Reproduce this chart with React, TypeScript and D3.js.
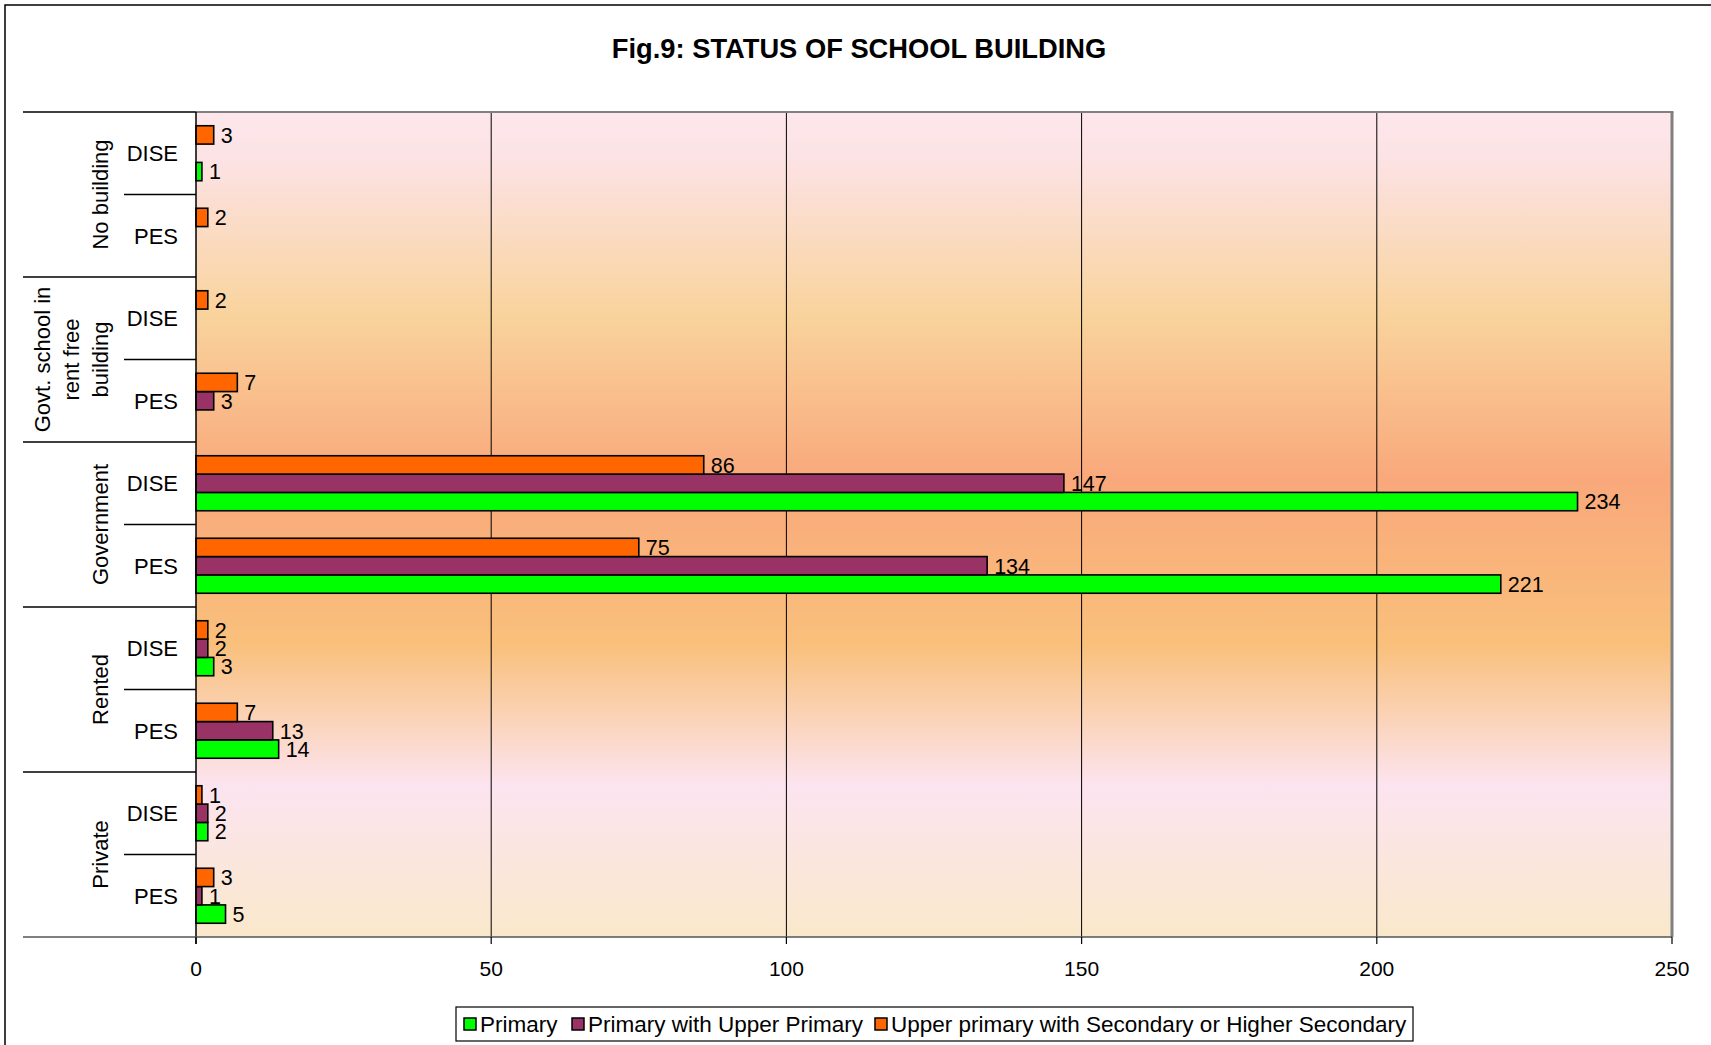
import React from 'react';
import * as d3 from 'd3';

// rows run top to bottom, two per building type
const groups = [['No building'], ['Govt. school in', 'rent free', 'building'], ['Government'], ['Rented'], ['Private']];
const sources = ['DISE', 'PES'];
const primary = [1, null, null, null, 234, 221, 3, 14, 2, 5];
const primaryUpper = [null, null, null, 3, 147, 134, 2, 13, 2, 1];
const upperSecondary = [3, 2, 2, 7, 86, 75, 2, 7, 1, 3];
const xTicks = [0, 50, 100, 150, 200, 250];
const seriesNames = ['Primary', 'Primary with Upper Primary', 'Upper primary with Secondary or Higher Secondary'];
const seriesColors = ['#00FF00', '#993366', '#FF6600'];

const W = 1711;
const H = 1045;
const P = { left: 196, right: 1672, top: 112, bottom: 937 };
const FONT = 'Liberation Sans, Arial, sans-serif';

export default function App() {
  const rows = groups.flatMap((g, gi) => sources.map((s) => `${gi}-${s}`));
  const x = d3.scaleLinear().domain([0, 250]).range([P.left, P.right]);
  const y = d3.scaleBand().domain(rows).range([P.top, P.bottom]);
  // top to bottom inside a row: upper secondary, primary+upper, primary
  const inner = d3.scaleBand().domain(['2', '1', '0']).range([0, y.bandwidth()]).paddingInner(0).paddingOuter(0.75);
  const values = [primary, primaryUpper, upperSecondary];

  const bars = [];
  values.forEach((arr, si) => {
    arr.forEach((v, ri) => {
      if (v == null) return;
      bars.push({ key: `${si}-${ri}`, si, v, y0: y(rows[ri]) + inner(String(si)) });
    });
  });

  const groupY = (gi) => y(rows[gi * 2]);
  const legendItems = [
    { sx: 464, tx: 480 },
    { sx: 572, tx: 588 },
    { sx: 875, tx: 891 },
  ];

  return (
    <svg width={W} height={H} style={{ position: 'absolute', left: 0, top: 0, background: '#fff' }} fontFamily={FONT}>
      <defs>
        <linearGradient id="bg" x1="0" y1="0" x2="0" y2="1">
          <stop offset="0" stopColor="#FDE7EC" />
          <stop offset="0.06" stopColor="#FCE2E3" />
          <stop offset="0.247" stopColor="#F9D39C" />
          <stop offset="0.446" stopColor="#F9A87B" />
          <stop offset="0.645" stopColor="#F9C07B" />
          <stop offset="0.817" stopColor="#FCE4F0" />
          <stop offset="1" stopColor="#FAE8CB" />
        </linearGradient>
      </defs>
      <rect x={5} y={5} width={W + 20} height={H + 20} fill="#fff" stroke="#000" strokeWidth={1.5} />

      <text x={859} y={58} textAnchor="middle" fontSize={27.3} fontWeight="bold">
        Fig.9: STATUS OF SCHOOL BUILDING
      </text>

      <rect x={P.left} y={P.top} width={P.right - P.left} height={P.bottom - P.top} fill="url(#bg)" />

      {xTicks.slice(1, -1).map((t) => (
        <line key={t} x1={x(t)} x2={x(t)} y1={P.top} y2={P.bottom} stroke="#000" strokeWidth={1} />
      ))}

      <line x1={P.left} x2={P.right + 1.5} y1={P.top} y2={P.top} stroke="#808080" strokeWidth={2} />
      <line x1={P.right} x2={P.right} y1={P.top} y2={P.bottom} stroke="#808080" strokeWidth={3} />

      {bars.map((b) => (
        <rect
          key={b.key}
          x={x(0)}
          y={b.y0}
          width={x(b.v) - x(0)}
          height={inner.bandwidth()}
          fill={seriesColors[b.si]}
          stroke="#000"
          strokeWidth={1.6}
        />
      ))}
      {bars.map((b) => (
        <text key={'l' + b.key} x={x(b.v) + 7} y={b.y0 + inner.bandwidth() / 2 + 7.8} fontSize={21.5} fill="#000">
          {b.v}
        </text>
      ))}

      {/* left axis and category separators */}
      <line x1={P.left} x2={P.left} y1={P.top} y2={P.bottom + 7} stroke="#000" strokeWidth={1.5} />
      {groups.map((g, gi) => (
        <line key={'g' + gi} x1={23} x2={P.left} y1={groupY(gi)} y2={groupY(gi)} stroke="#000" strokeWidth={1.5} />
      ))}
      <line x1={23} x2={P.left} y1={P.bottom} y2={P.bottom} stroke="#555" strokeWidth={1.5} />
      {groups.map((g, gi) => (
        <line
          key={'s' + gi}
          x1={124}
          x2={P.left}
          y1={y(rows[gi * 2 + 1])}
          y2={y(rows[gi * 2 + 1])}
          stroke="#000"
          strokeWidth={1.5}
        />
      ))}
      {rows.map((r, ri) => (
        <text key={r} x={178} y={y(r) + y.bandwidth() / 2 + 8} textAnchor="end" fontSize={22}>
          {sources[ri % 2]}
        </text>
      ))}
      {groups.map((lines, gi) => {
        const cy = groupY(gi) + y.bandwidth();
        return (
          <text key={'gl' + gi} transform={`translate(108,${cy}) rotate(-90)`} textAnchor="middle" fontSize={22}>
            {lines.map((ln, li) => (
              <tspan key={li} x={0} y={(li - (lines.length - 1)) * 29}>
                {ln}
              </tspan>
            ))}
          </text>
        );
      })}

      {/* bottom axis */}
      <line x1={P.left} x2={P.right} y1={P.bottom} y2={P.bottom} stroke="#555" strokeWidth={1.5} />
      {xTicks.map((t) => (
        <g key={'t' + t}>
          <line x1={x(t)} x2={x(t)} y1={P.bottom} y2={P.bottom + 7} stroke="#000" strokeWidth={1.2} />
          <text x={x(t)} y={976} textAnchor="middle" fontSize={21}>
            {t}
          </text>
        </g>
      ))}

      {/* legend */}
      <rect x={456} y={1007} width={957} height={34} fill="#fff" stroke="#000" strokeWidth={1.2} />
      {seriesNames.map((n, i) => (
        <g key={n}>
          <rect x={legendItems[i].sx} y={1018} width={12} height={12} fill={seriesColors[i]} stroke="#000" strokeWidth={1.5} />
          <text x={legendItems[i].tx} y={1032} fontSize={22.5}>
            {n}
          </text>
        </g>
      ))}
    </svg>
  );
}
